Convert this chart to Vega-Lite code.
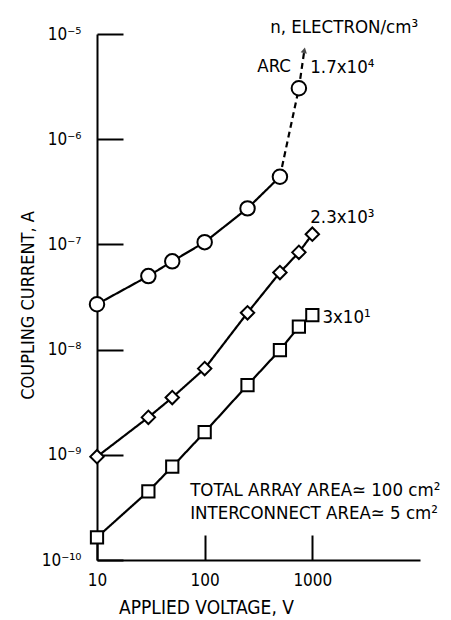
{
  "$schema": "https://vega.github.io/schema/vega-lite/v6.json",
  "width": 323,
  "height": 526,
  "autosize": {"type": "none"},
  "padding": {"left": 97, "top": 34, "right": 31, "bottom": 60},
  "background": "white",
  "config": {
    "view": {"stroke": null},
    "font": "DejaVu Sans Condensed",
    "axis": {"grid": false, "domainColor": "black", "tickColor": "black", "labelColor": "black", "titleColor": "black", "domainWidth": 2, "tickWidth": 2, "labelFont": "DejaVu Sans Condensed", "titleFont": "DejaVu Sans Condensed", "labelFontSize": 17, "titleFontSize": 18, "titleFontWeight": "normal", "labelFlush": false}
  },
  "datasets": {
    "lines": [
      {"group": "c", "style": "solid", "V": 10, "I": 2.7e-8},
      {"group": "c", "style": "solid", "V": 30, "I": 5.0e-8},
      {"group": "c", "style": "solid", "V": 50, "I": 6.9e-8},
      {"group": "c", "style": "solid", "V": 100, "I": 1.05e-7},
      {"group": "c", "style": "solid", "V": 250, "I": 2.2e-7},
      {"group": "c", "style": "solid", "V": 500, "I": 4.4e-7},
      {"group": "arc", "style": "dashed", "V": 500, "I": 4.4e-7},
      {"group": "arc", "style": "dashed", "V": 750, "I": 3.05e-6},
      {"group": "arc", "style": "dashed", "V": 843, "I": 7.0e-6},
      {"group": "d", "style": "solid", "V": 10, "I": 9.6e-10},
      {"group": "d", "style": "solid", "V": 30, "I": 2.27e-9},
      {"group": "d", "style": "solid", "V": 50, "I": 3.5e-9},
      {"group": "d", "style": "solid", "V": 100, "I": 6.6e-9},
      {"group": "d", "style": "solid", "V": 250, "I": 2.24e-8},
      {"group": "d", "style": "solid", "V": 500, "I": 5.4e-8},
      {"group": "d", "style": "solid", "V": 750, "I": 8.4e-8},
      {"group": "d", "style": "solid", "V": 1000, "I": 1.25e-7},
      {"group": "s", "style": "solid", "V": 10, "I": 1.64e-10},
      {"group": "s", "style": "solid", "V": 30, "I": 4.5e-10},
      {"group": "s", "style": "solid", "V": 50, "I": 7.7e-10},
      {"group": "s", "style": "solid", "V": 100, "I": 1.64e-9},
      {"group": "s", "style": "solid", "V": 250, "I": 4.6e-9},
      {"group": "s", "style": "solid", "V": 500, "I": 9.9e-9},
      {"group": "s", "style": "solid", "V": 750, "I": 1.65e-8},
      {"group": "s", "style": "solid", "V": 1000, "I": 2.13e-8}
    ],
    "points": [
      {"n": "1.7x10^4", "V": 10, "I": 2.7e-8},
      {"n": "1.7x10^4", "V": 30, "I": 5.0e-8},
      {"n": "1.7x10^4", "V": 50, "I": 6.9e-8},
      {"n": "1.7x10^4", "V": 100, "I": 1.05e-7},
      {"n": "1.7x10^4", "V": 250, "I": 2.2e-7},
      {"n": "1.7x10^4", "V": 500, "I": 4.4e-7},
      {"n": "1.7x10^4", "V": 750, "I": 3.05e-6},
      {"n": "2.3x10^3", "V": 10, "I": 9.6e-10},
      {"n": "2.3x10^3", "V": 30, "I": 2.27e-9},
      {"n": "2.3x10^3", "V": 50, "I": 3.5e-9},
      {"n": "2.3x10^3", "V": 100, "I": 6.6e-9},
      {"n": "2.3x10^3", "V": 250, "I": 2.24e-8},
      {"n": "2.3x10^3", "V": 500, "I": 5.4e-8},
      {"n": "2.3x10^3", "V": 750, "I": 8.4e-8},
      {"n": "2.3x10^3", "V": 1000, "I": 1.25e-7},
      {"n": "3x10^1", "V": 10, "I": 1.64e-10},
      {"n": "3x10^1", "V": 30, "I": 4.5e-10},
      {"n": "3x10^1", "V": 50, "I": 7.7e-10},
      {"n": "3x10^1", "V": 100, "I": 1.64e-9},
      {"n": "3x10^1", "V": 250, "I": 4.6e-9},
      {"n": "3x10^1", "V": 500, "I": 9.9e-9},
      {"n": "3x10^1", "V": 750, "I": 1.65e-8},
      {"n": "3x10^1", "V": 1000, "I": 2.13e-8}
    ],
    "arrow": [{"V": 843, "I": 7.0e-6}],
    "labels": [
      {"text": "n, ELECTRON/cm³", "V": 406, "I": 1.17e-5},
      {"text": "ARC", "V": 308, "I": 4.96e-6},
      {"text": "1.7x10⁴", "V": 957, "I": 4.9e-6},
      {"text": "2.3x10³", "V": 957, "I": 1.82e-7},
      {"text": "3x10¹", "V": 1240, "I": 2.04e-8},
      {"text": "TOTAL ARRAY AREA≃ 100 cm²", "V": 73.3, "I": 4.62e-10},
      {"text": "INTERCONNECT AREA≃ 5 cm²", "V": 73.3, "I": 2.8e-10}
    ]
  },
  "layer": [
    {
      "data": {"name": "lines"},
      "mark": {"type": "line", "color": "black", "strokeWidth": 2.2},
      "encoding": {
        "x": {"field": "V", "type": "quantitative", "scale": {"type": "log", "domain": [10, 10000], "nice": false},
          "axis": {"values": [10, 100, 1000], "tickSize": -25, "labelPadding": 37, "labelExpr": "datum.value < 50 ? '10' : datum.value < 500 ? '100' : '1000'", "title": "APPLIED VOLTAGE, V", "titleX": 109, "titleY": 47, "titleBaseline": "middle", "titleAlign": "center", "titleFontSize": 19}},
        "y": {"field": "I", "type": "quantitative", "scale": {"type": "log", "domain": [1e-10, 1e-5], "nice": false},
          "axis": {"values": [1e-10, 1e-9, 1e-8, 1e-7, 1e-6, 1e-5], "tickSize": -26, "labelPadding": 42, "labelExpr": "datum.value < 5e-10 ? '10⁻¹⁰' : datum.value < 5e-9 ? '10⁻⁹' : datum.value < 5e-8 ? '10⁻⁸' : datum.value < 5e-7 ? '10⁻⁷' : datum.value < 5e-6 ? '10⁻⁶' : '10⁻⁵'", "title": "COUPLING CURRENT, A", "titleX": -69, "titleY": 271, "titleAngle": -90, "titleBaseline": "middle", "titleAlign": "center", "titleFontSize": 18}},
        "detail": {"field": "group"},
        "strokeDash": {"field": "style", "type": "nominal", "scale": {"domain": ["solid", "dashed"], "range": [[1, 0], [6, 4]]}, "legend": null}
      }
    },
    {
      "data": {"name": "arrow"},
      "mark": {"type": "point", "shape": "triangle-up", "filled": true, "color": "black", "size": 40, "angle": 12},
      "encoding": {
        "x": {"field": "V", "type": "quantitative"},
        "y": {"field": "I", "type": "quantitative"}
      }
    },
    {
      "data": {"name": "points"},
      "mark": {"type": "point", "filled": true, "fill": "white", "stroke": "black", "strokeWidth": 2, "opacity": 1},
      "encoding": {
        "x": {"field": "V", "type": "quantitative"},
        "y": {"field": "I", "type": "quantitative"},
        "shape": {"field": "n", "type": "nominal", "scale": {"domain": ["1.7x10^4", "2.3x10^3", "3x10^1"], "range": ["circle", "diamond", "square"]}, "legend": null},
        "size": {"field": "n", "type": "nominal", "scale": {"domain": ["1.7x10^4", "2.3x10^3", "3x10^1"], "range": [210, 150, 180]}, "legend": null}
      }
    },
    {
      "data": {"name": "labels"},
      "mark": {"type": "text", "align": "left", "baseline": "middle", "fontSize": 18.5, "font": "DejaVu Sans Condensed", "color": "black"},
      "encoding": {
        "x": {"field": "V", "type": "quantitative"},
        "y": {"field": "I", "type": "quantitative"},
        "text": {"field": "text"}
      }
    }
  ]
}
